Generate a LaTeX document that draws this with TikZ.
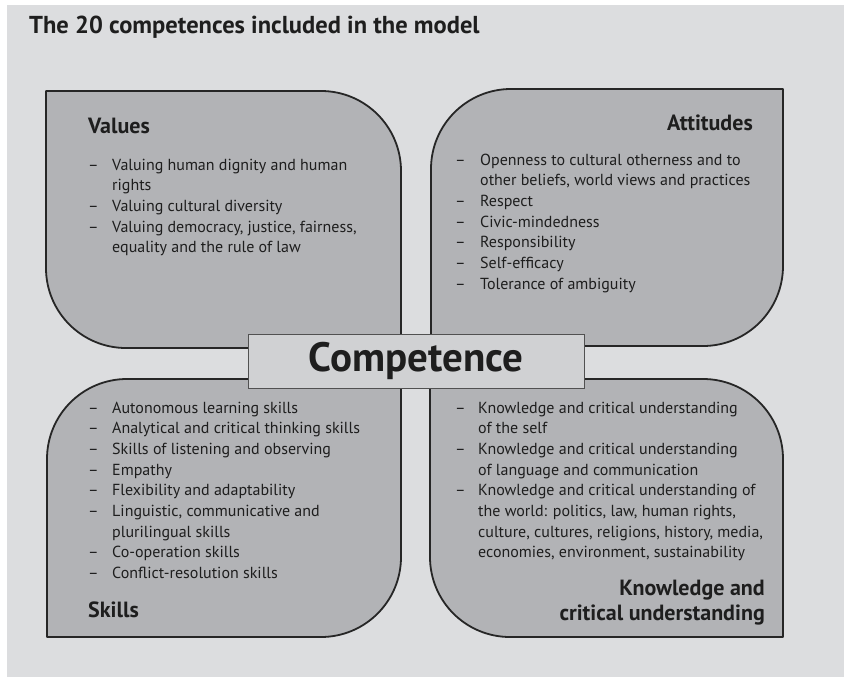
\documentclass[tikz,border=0pt]{standalone}
\usepackage{fontspec}
\setmainfont{PT Sans}
\usepackage{array}
\definecolor{bg}{HTML}{DCDDDF}
\definecolor{quadfill}{HTML}{B2B3B6}
\definecolor{corefill}{HTML}{D0D1D3}
\definecolor{ink}{HTML}{1E1E1E}
\definecolor{edgecol}{HTML}{262626}
\begin{document}
\begin{tikzpicture}[x=1pt,y=-1pt,
  quadrant/.style={draw=edgecol, line width=1.8pt, fill=quadfill, line join=round},
  heading/.style={inner sep=0pt, font=\fontsize{22}{25}\selectfont\bfseries, text=ink},
  itemlist/.style={inner sep=0pt, anchor=base west, font=\fontsize{16}{20.7}\selectfont, text=ink},
  corebox/.style={draw=edgecol!80, line width=1pt, fill=corefill, minimum width=336pt, minimum height=54pt, inner sep=0pt, font=\fontsize{41}{44}\selectfont\bfseries, text=ink},
  titletext/.style={inner sep=0pt, anchor=base west, font=\fontsize{24.5}{28}\selectfont\bfseries, text=ink}]
\useasboundingbox (0,0) rectangle (844,677);
\fill[white] (0,0) rectangle (844,677);
\fill[bg] (7,5) rectangle (844,677);

\node[titletext] (title) at (29,34) {The 20 competences included in the model};

% Values (top left)
\draw[quadrant] (46,91) -- (321,91) .. controls (365.2,91) and (401,126.8) .. (401,171)
  -- (401,348) -- (126,348) .. controls (81.8,348) and (46,312.2) .. (46,268) -- cycle;
% Attitudes (top right)
\draw[quadrant] (431,346) -- (431,169) .. controls (431,124.8) and (466.8,89) .. (511,89)
  -- (783,89) -- (783,266) .. controls (783,310.2) and (747.2,346) .. (703,346) -- cycle;
% Skills (bottom left)
\draw[quadrant] (47,637) -- (47,459) .. controls (47,414.8) and (82.8,379) .. (127,379)
  -- (401,379) -- (401,557) .. controls (401,601.2) and (365.2,637) .. (321,637) -- cycle;
% Knowledge (bottom right)
\draw[quadrant] (430,379) -- (703,379) .. controls (747.2,379) and (783,414.8) .. (783,459)
  -- (783,637) -- (510,637) .. controls (465.8,637) and (430,601.2) .. (430,557) -- cycle;

\node[corebox] (core) at (416,361) {Competence};

\node[heading, anchor=base west] (valuesh) at (88,133) {Values};
\node[itemlist] (valuesl) at (88,170) {\begin{tabular}[t]{@{}p{24pt}@{}l@{}}
-- & Valuing human dignity and human\\
   & rights\\
-- & Valuing cultural diversity\\
-- & Valuing democracy, justice, fairness,\\
   & equality and the rule of law
\end{tabular}};

\node[heading, anchor=base east] (attitudesh) at (753,130) {Attitudes};
\node[itemlist] (attitudesl) at (455,165) {\begin{tabular}[t]{@{}p{25pt}@{}l@{}}
-- & Openness to cultural otherness and to\\
   & other beliefs, world views and practices\\
-- & Respect\\
-- & Civic-mindedness\\
-- & Responsibility\\
-- & Self-efficacy\\
-- & Tolerance of ambiguity
\end{tabular}};

\node[itemlist] (skillsl) at (88,413) {\begin{tabular}[t]{@{}p{24pt}@{}l@{}}
-- & Autonomous learning skills\\
-- & Analytical and critical thinking skills\\
-- & Skills of listening and observing\\
-- & Empathy\\
-- & Flexibility and adaptability\\
-- & Linguistic, communicative and\\
   & plurilingual skills\\
-- & Co-operation skills\\
-- & Conflict-resolution skills
\end{tabular}};
\node[heading, anchor=base west] (skillsh) at (88,617) {Skills};

\node[itemlist] (knowl) at (455,413) {\begin{tabular}[t]{@{}p{23pt}@{}l@{}}
-- & Knowledge and critical understanding\\
   & of the self\\
-- & Knowledge and critical understanding\\
   & of language and communication\\
-- & Knowledge and critical understanding of\\
   & the world: politics, law, human rights,\\
   & culture, cultures, religions, history, media,\\
   & economies, environment, sustainability
\end{tabular}};
\node[heading, anchor=base east] (knowh) at (765,620) {\begin{tabular}[b]{@{}r@{}}
Knowledge and\\
critical understanding
\end{tabular}};
\end{tikzpicture}
\end{document}
